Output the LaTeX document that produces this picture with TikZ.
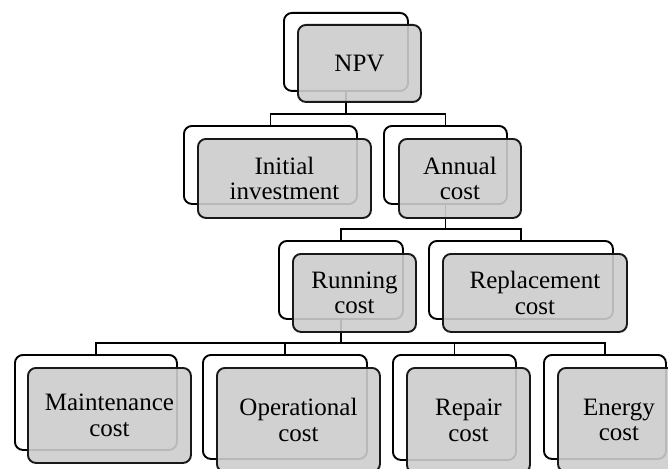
\documentclass[tikz,border=0pt]{standalone}
\usepackage{fontspec}
\newfontfamily\boxserif{Liberation Serif}
\newcommand\boxfont{\boxserif\fontsize{25}{25.5}\selectfont}
\definecolor{frontgray}{RGB}{205,205,205}
\tikzset{
  backbox/.style={draw=black, line width=1.9pt, rounded corners=8pt, fill=white, inner sep=0pt, anchor=north west},
  frontbox/.style={draw=black!90, line width=1.9pt, rounded corners=8pt, fill=frontgray, fill opacity=0.9, text opacity=1, inner sep=0pt, anchor=north west, align=center, font=\boxfont},
  link/.style={draw=black, line width=1.9pt}
}
\begin{document}
\begin{tikzpicture}[x=1pt, y=-1pt]
\useasboundingbox (0,0) rectangle (668,468);
\clip (0,0) rectangle (668,468);
% levels of the connector bars
\coordinate (barA) at (0,114);
\coordinate (barB) at (0,229);
\coordinate (barC) at (0,343);
% back boxes
\node[backbox, minimum width=124pt, minimum height=78pt] (npvb) at (283,12) {};
\node[backbox, minimum width=173pt, minimum height=78pt] (initb) at (183,125) {};
\node[backbox, minimum width=123pt, minimum height=78pt] (annb) at (383,125) {};
\node[backbox, minimum width=124pt, minimum height=78pt] (runb) at (278,240) {};
\node[backbox, minimum width=184pt, minimum height=78pt] (repb) at (428,240) {};
\node[backbox, minimum width=162pt, minimum height=95pt] (maintb) at (14,354) {};
\node[backbox, minimum width=164pt, minimum height=104pt] (operb) at (202,354) {};
\node[backbox, minimum width=123pt, minimum height=105pt] (repairb) at (392,354) {};
\node[backbox, minimum width=122pt, minimum height=104pt] (energyb) at (543,354) {};
% connectors
\draw[link] (npvb.south) -- (npvb.south |- barA) -| (initb.north);
\draw[link] (npvb.south) -- (npvb.south |- barA) -| (annb.north);
\draw[link] (annb.south) -- (annb.south |- barB) -| (runb.north);
\draw[link] (annb.south) -- (annb.south |- barB) -| (repb.north);
\draw[link] (runb.south) -- (runb.south |- barC) -| (maintb.north);
\draw[link] (runb.south) -- (runb.south |- barC) -| (operb.north);
\draw[link] (runb.south) -- (runb.south |- barC) -| (repairb.north);
\draw[link] (runb.south) -- (runb.south |- barC) -| (energyb.north);
% front boxes
\node[frontbox, minimum width=123pt, minimum height=77pt] (npv) at (297,24) {NPV};
\node[frontbox, minimum width=173pt, minimum height=79pt] (init) at (197,138) {Initial\\investment};
\node[frontbox, minimum width=122pt, minimum height=79pt] (ann) at (398,138) {Annual\\cost};
\node[frontbox, minimum width=123pt, minimum height=78pt] (run) at (292,253) {Running\\cost};
\node[frontbox, minimum width=184pt, minimum height=78pt] (rep) at (442,253) {Replacement\\cost};
\node[frontbox, minimum width=163pt, minimum height=95pt] (maint) at (27,367) {Maintenance\\cost};
\node[frontbox, minimum width=163pt, minimum height=104pt] (oper) at (216,367) {Operational\\cost};
\node[frontbox, minimum width=123pt, minimum height=105pt] (repair) at (406,367) {Repair\\cost};
\node[frontbox, minimum width=122pt, minimum height=104pt] (energy) at (557,367) {Energy\\cost};
\end{tikzpicture}
\end{document}
